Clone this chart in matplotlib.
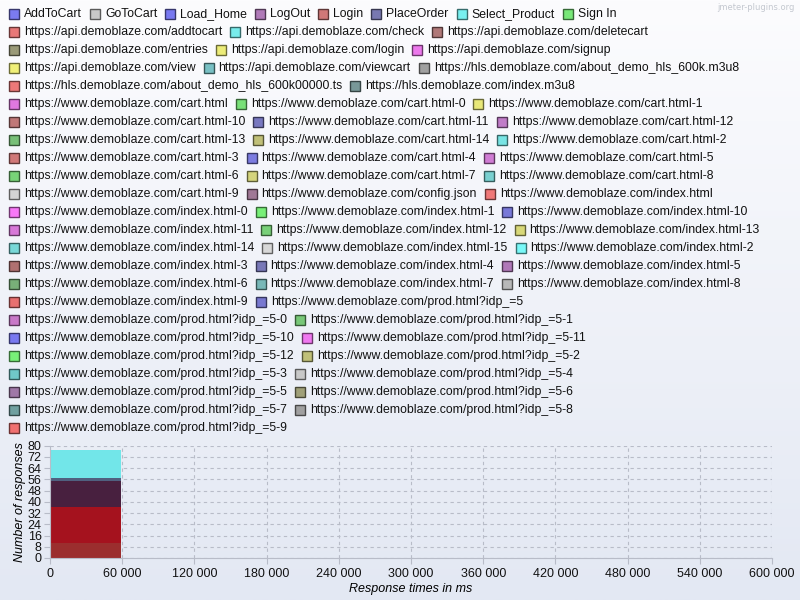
import numpy as np
import matplotlib.pyplot as plt
from matplotlib.patches import Rectangle
from matplotlib.ticker import FuncFormatter, MultipleLocator
import matplotlib.colors as mcolors

plt.rcParams['font.family'] = ['Liberation Sans', 'DejaVu Sans']

# legend rows as they wrap in the original
legend_rows = [
    ["AddToCart", "GoToCart", "Load_Home", "LogOut", "Login", "PlaceOrder", "Select_Product", "Sign In"],
    ["https://api.demoblaze.com/addtocart", "https://api.demoblaze.com/check", "https://api.demoblaze.com/deletecart"],
    ["https://api.demoblaze.com/entries", "https://api.demoblaze.com/login", "https://api.demoblaze.com/signup"],
    ["https://api.demoblaze.com/view", "https://api.demoblaze.com/viewcart", "https://hls.demoblaze.com/about_demo_hls_600k.m3u8"],
    ["https://hls.demoblaze.com/about_demo_hls_600k00000.ts", "https://hls.demoblaze.com/index.m3u8"],
    ["https://www.demoblaze.com/cart.html", "https://www.demoblaze.com/cart.html-0", "https://www.demoblaze.com/cart.html-1"],
    ["https://www.demoblaze.com/cart.html-10", "https://www.demoblaze.com/cart.html-11", "https://www.demoblaze.com/cart.html-12"],
    ["https://www.demoblaze.com/cart.html-13", "https://www.demoblaze.com/cart.html-14", "https://www.demoblaze.com/cart.html-2"],
    ["https://www.demoblaze.com/cart.html-3", "https://www.demoblaze.com/cart.html-4", "https://www.demoblaze.com/cart.html-5"],
    ["https://www.demoblaze.com/cart.html-6", "https://www.demoblaze.com/cart.html-7", "https://www.demoblaze.com/cart.html-8"],
    ["https://www.demoblaze.com/cart.html-9", "https://www.demoblaze.com/config.json", "https://www.demoblaze.com/index.html"],
    ["https://www.demoblaze.com/index.html-0", "https://www.demoblaze.com/index.html-1", "https://www.demoblaze.com/index.html-10"],
    ["https://www.demoblaze.com/index.html-11", "https://www.demoblaze.com/index.html-12", "https://www.demoblaze.com/index.html-13"],
    ["https://www.demoblaze.com/index.html-14", "https://www.demoblaze.com/index.html-15", "https://www.demoblaze.com/index.html-2"],
    ["https://www.demoblaze.com/index.html-3", "https://www.demoblaze.com/index.html-4", "https://www.demoblaze.com/index.html-5"],
    ["https://www.demoblaze.com/index.html-6", "https://www.demoblaze.com/index.html-7", "https://www.demoblaze.com/index.html-8"],
    ["https://www.demoblaze.com/index.html-9", "https://www.demoblaze.com/prod.html?idp_=5"],
    ["https://www.demoblaze.com/prod.html?idp_=5-0", "https://www.demoblaze.com/prod.html?idp_=5-1"],
    ["https://www.demoblaze.com/prod.html?idp_=5-10", "https://www.demoblaze.com/prod.html?idp_=5-11"],
    ["https://www.demoblaze.com/prod.html?idp_=5-12", "https://www.demoblaze.com/prod.html?idp_=5-2"],
    ["https://www.demoblaze.com/prod.html?idp_=5-3", "https://www.demoblaze.com/prod.html?idp_=5-4"],
    ["https://www.demoblaze.com/prod.html?idp_=5-5", "https://www.demoblaze.com/prod.html?idp_=5-6"],
    ["https://www.demoblaze.com/prod.html?idp_=5-7", "https://www.demoblaze.com/prod.html?idp_=5-8"],
    ["https://www.demoblaze.com/prod.html?idp_=5-9"],
]

legend_colors = [
    ["#7b7bf0", "#c8c8c8", "#7878f0", "#b07ab8", "#d07878", "#7878b0", "#78f0f0", "#78e878"],
    ["#e87878", "#78ecec", "#b07878"],
    ["#9a9a78", "#ecec78", "#ec78ec"],
    ["#f0f078", "#78c0c4", "#a0a0a0"],
    ["#ec7878", "#789898"],
    ["#e078e0", "#78e078", "#e8e878"],
    ["#c07878", "#7878c0", "#c07cc8"],
    ["#78c078", "#c0c078", "#78e4e4"],
    ["#d07878", "#7c7ce0", "#d07cd4"],
    ["#78d478", "#d4d47c", "#78d0d0"],
    ["#d4d4d4", "#a07896", "#f07878"],
    ["#f878f8", "#78f078", "#7878d8"],
    ["#d878d8", "#78d078", "#d8d878"],
    ["#78d8d8", "#d8d8d8", "#78f8f8"],
    ["#b07070", "#7878b8", "#b078b8"],
    ["#78b078", "#78b8b8", "#b8b8b8"],
    ["#e87070", "#7878d0"],
    ["#c878c8", "#78c878"],
    ["#7878f0", "#f078f0"],
    ["#78f078", "#c0c078"],
    ["#70c8c8", "#c8c8c8"],
    ["#a078a8", "#a0a078"],
    ["#70a0a0", "#a0a0a0"],
    ["#f07070"],
]

# overlapping histogram bars in the first 60 000 ms bin (tallest drawn first)
bar_heights = [77, 57, 55, 36, 11]
bar_colors = ["#72e6e9", "#506080", "#48203f", "#a5121e", "#9b2e2e"]
bin_start = 0
bin_width = 59000

W, H = 800, 600
fig = plt.figure(figsize=(8, 6), dpi=100)

# background gradient
bg = fig.add_axes([0, 0, 1, 1], zorder=-10)
grad = np.linspace(0, 1, 256).reshape(-1, 1)
cmap = mcolors.LinearSegmentedColormap.from_list("bg", ["#fcfcfe", "#e3e8f3"])
bg.imshow(grad, aspect="auto", cmap=cmap, extent=[0, 1, 0, 1], origin="upper")
bg.axis("off")

fig.text(795 / W, 1 - 8 / H, "jmeter-plugins.org", ha="right", va="center",
         fontsize=6, color="#c4c8d0", family="DejaVu Sans")

# legend laid out like a flow layout
renderer = fig.canvas.get_renderer()
font_px = 8.8
for r, (labels, cols) in enumerate(zip(legend_rows, legend_colors)):
    y = 14 + 18 * r
    x = 9
    for lab, c in zip(labels, cols):
        edge = np.array(mcolors.to_rgb(c)) * 0.45
        fig.patches.append(Rectangle((x / W, 1 - (y + 5) / H), 10 / W, 10 / H,
                                     transform=fig.transFigure, facecolor=c,
                                     edgecolor=edge, linewidth=1.0))
        t = fig.text((x + 15) / W, 1 - y / H, lab, ha="left", va="center",
                     fontsize=font_px, color="#111111")
        bb = t.get_window_extent(renderer)
        x = bb.x1 + 8

ax = fig.add_axes([50 / W, 1 - 558 / H, 722 / W, 112.3 / H])
ax.set_facecolor("none")
for h, c in zip(bar_heights, bar_colors):
    ax.bar(bin_start, h, width=bin_width, align="edge", color=c, zorder=2)

ax.set_xlim(0, 600000)
ax.set_ylim(0, 80)
ax.xaxis.set_major_locator(MultipleLocator(60000))
ax.yaxis.set_major_locator(MultipleLocator(8))
ax.xaxis.set_major_formatter(FuncFormatter(lambda v, p: f"{int(v):,}".replace(",", " ")))
ax.grid(True, color="#b8bcc8", linestyle=(0, (3, 3)), linewidth=0.8)
for s in ["top", "right"]:
    ax.spines[s].set_visible(False)
for s in ["left", "bottom"]:
    ax.spines[s].set_color("#b8bcc8")
ax.tick_params(colors="#b8bcc8", labelcolor="#111111", labelsize=9, length=4)
ax.tick_params(axis="y", pad=2)
ax.set_xlabel("Response times in ms", fontsize=9, style="italic", labelpad=2)
ax.set_ylabel("Number of responses", fontsize=9, style="italic", labelpad=1)

fig.savefig("out.png", dpi=100)
